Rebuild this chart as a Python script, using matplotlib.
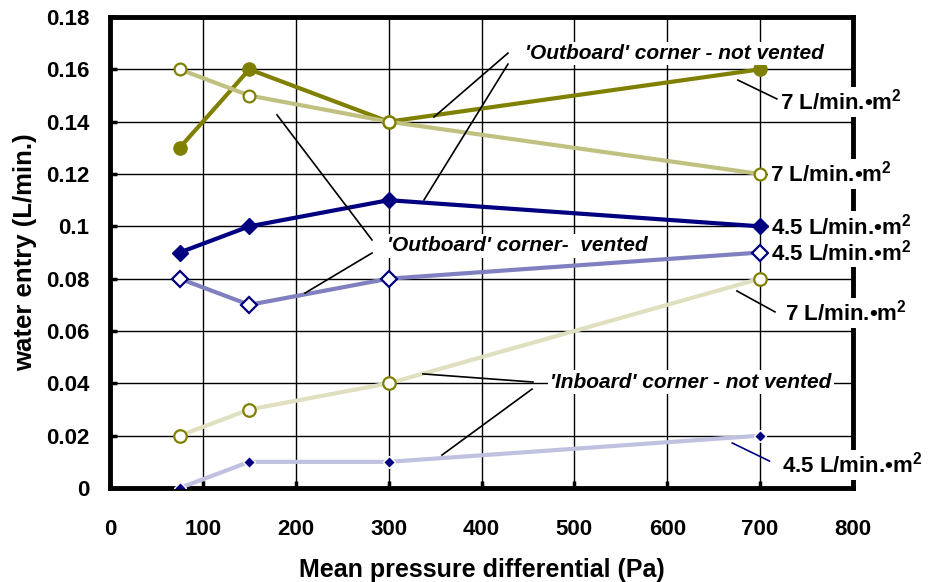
import matplotlib

matplotlib.use("Agg")
import matplotlib.pyplot as plt

plt.rcParams["font.family"] = ["Liberation Sans", "DejaVu Sans"]
plt.rcParams["font.weight"] = "bold"
plt.rcParams["mathtext.fontset"] = "custom"
plt.rcParams["mathtext.rm"] = "Liberation Sans:bold"
plt.rcParams["mathtext.it"] = "Liberation Sans:bold"
plt.rcParams["mathtext.bf"] = "Liberation Sans:bold"

# pressure steps (Pa)
pressure = [75, 150, 300, 700]

# water entry (L/min.)
out_novent_7 = [0.13, 0.16, 0.14, 0.16]
out_vent_7 = [0.16, 0.15, 0.14, 0.12]
out_novent_45 = [0.09, 0.10, 0.11, 0.10]
out_vent_45 = [0.08, 0.07, 0.08, 0.09]
in_novent_7 = [0.02, 0.03, 0.04, 0.08]
in_novent_45 = [0.00, 0.01, 0.01, 0.02]

rate_7 = "7 L/min.\u2022m$^2$"
rate_45 = "4.5 L/min.\u2022m$^2$"

# end labels: (x, y, text)
end_labels = [
    (721, 0.1475, rate_7),
    (711, 0.120, rate_7),
    (712, 0.100, rate_45),
    (712, 0.090, rate_45),
    (727, 0.0669, rate_7),
    (724, 0.0088, rate_45),
]
# leader lines of the end labels: (x0, x1, y0, y1, colour)
end_leaders = [
    (676, 718, 0.1559, 0.1487, "black"),
    (675, 716, 0.0753, 0.0673, "black"),
    (670, 710, 0.0172, 0.0103, "#000080"),
]

# group captions: (x, y, text)
captions = [
    (447, 0.1659, "'Outboard' corner - not vented"),
    (298, 0.0925, "'Outboard' corner-  vented"),
    (474, 0.0405, "'Inboard' corner - not vented"),
]
caption_leaders = [
    (428.5, 348.9, 0.1662, 0.1418),
    (428.5, 338.1, 0.1620, 0.1101),
    (282.1, 179.8, 0.0948, 0.1426),
    (282.1, 210.0, 0.0898, 0.0745),
    (455.4, 337.0, 0.0405, 0.0436),
    (454.4, 357.5, 0.0378, 0.0126),
]

fig = plt.figure(figsize=(9.31, 5.82), dpi=100)
ax = fig.add_axes([110 / 931, 1 - 488 / 582, 743 / 931, 471 / 582])

ax.plot(pressure, out_novent_7, color="#808000", lw=3, marker="o", ms=9.5,
        mfc="#808000", mec="#808000", zorder=4)
ax.plot(pressure, out_vent_7, color="#C0C080", lw=3, marker="o", ms=8.5,
        mfc="white", mec="#808000", mew=1.6, zorder=4)
ax.plot(pressure, out_novent_45, color="#000080", lw=3, marker="D", ms=8,
        mfc="#000080", mec="#000080", zorder=4)
ax.plot(pressure, out_vent_45, color="#8080C0", lw=3, marker="D", ms=8,
        mfc="white", mec="#000080", mew=1.6, zorder=4)
ax.plot(pressure, in_novent_7, color="#E0E0C0", lw=3, marker="o", ms=9,
        mfc="white", mec="#808000", mew=1.6, zorder=4)
ax.plot(pressure, in_novent_45, color="#C0C0E0", lw=3, marker="D", ms=6.5,
        mfc="#000080", mec="white", mew=1, zorder=4)

for x0, x1, y0, y1, c in end_leaders:
    ax.plot([x0, x1], [y0, y1], color=c, lw=1.2, zorder=5, clip_on=False)
for x0, x1, y0, y1 in caption_leaders:
    ax.plot([x0, x1], [y0, y1], color="black", lw=1.2, zorder=5, clip_on=False)

box = dict(facecolor="white", edgecolor="none", pad=1.5)
for x, y, t in end_labels:
    ax.text(x, y, t, fontsize=16, fontweight="bold", ha="left", va="center",
            bbox=box, zorder=6, clip_on=False)
for x, y, t in captions:
    ax.text(x, y, t, fontsize=15, fontweight="bold", style="italic",
            ha="left", va="center", bbox=box, zorder=6)

ax.set_xlim(0, 800)
ax.set_ylim(0, 0.18)
ax.set_xticks(range(0, 801, 100))
ax.set_yticks([i * 0.02 for i in range(10)])
ax.set_yticklabels(["0", "0.02", "0.04", "0.06", "0.08", "0.1",
                    "0.12", "0.14", "0.16", "0.18"])
ax.grid(True, color="black", linewidth=1, zorder=1)
ax.set_axisbelow(True)
for side in ax.spines.values():
    side.set_linewidth(3.5)
ax.tick_params(axis="both", direction="in", length=5, width=2.5, labelsize=16)
ax.tick_params(axis="x", pad=22)
ax.tick_params(axis="y", pad=15)

ax.set_xlabel("Mean pressure differential (Pa)", fontsize=18, fontweight="bold",
              labelpad=13)
ax.set_ylabel("water entry (L/min.)", fontsize=18.5, fontweight="bold", labelpad=6)

fig.savefig("out.png", dpi=100)
